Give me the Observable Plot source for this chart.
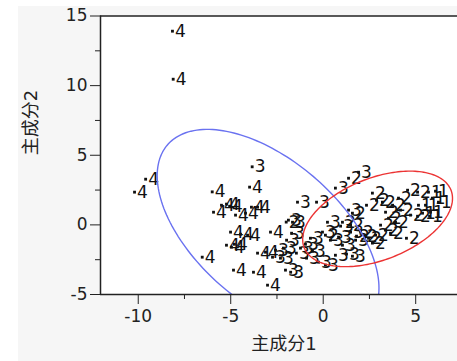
<!DOCTYPE html>
<html><head><meta charset="utf-8">
<script src="https://cdn.jsdelivr.net/npm/d3@7"></script>
<script src="https://cdn.jsdelivr.net/npm/@observablehq/plot@0.6"></script>
<style>
html,body{margin:0;padding:0;background:#fff;}
#wrap{position:relative;width:457px;height:361px;overflow:hidden;}
#bg{position:absolute;left:18px;top:6px;right:0;bottom:0;background:#f6f6f6;}
#chart{position:absolute;left:0;top:0;}
</style></head><body>
<div id="wrap"><div id="bg"></div><div id="chart"></div></div>
<script>
// group 4
const g4x = [-8.15,-8.11,-9.6,-10.2,-6.0,-3.98,-5.5,-5.23,-5.06,-5.93,-4.74,-3.88,-3.55,-5.01,-4.09,-2.85,-5.23,-4.96,-4.8,-6.54,-4.85,-3.77,-3.01,-3.55,-3.12,-4.47,-4.2];
const g4y = [13.91,10.46,3.28,2.35,2.37,2.71,1.41,1.49,1.34,0.91,0.70,1.27,1.27,-0.52,-0.74,-0.52,-1.46,-1.6,-1.39,-2.32,-3.25,-3.4,-4.33,-2.03,-1.96,-0.67,0.84];
// group 3
const g3x = [-3.84,-1.39,-1.88,-1.66,-2.04,-1.76,-2.31,-2.74,-2.58,-1.98,-1.71,-1.23,-0.96,-0.58,-0.25,0.12,0.66,1.26,1.58,1.04,0.83,1.48,1.75,1.37,0.66,-0.36,1.91,0.23,-0.04,0.39,0.94,-1.45,-0.9,-2.15,-0.69];
const g3y = [4.17,1.63,0.34,0.19,-3.25,-3.4,-2.39,-2.32,-1.82,-1.1,-0.6,-1.67,-1.39,-1.89,-2.68,-2.89,-2.18,-2.1,-2.25,-1.46,-0.88,-0.52,-1.1,1.06,2.64,1.63,3.78,0.19,-0.52,-1.1,-0.09,-2.03,-2.39,-1.67,-0.96];
// group 2
const g2x = [1.37,2.66,2.88,2.34,3.2,3.75,4.07,4.56,5.1,4.18,4.72,3.53,3.91,3.1,3.37,2.83,2.45,2.02,3.64,4.5,2.66,5.1,1.04,1.48,1.8,2.23,0.12,1.58,-2.0,3.37];
const g2y = [3.35,2.28,1.77,1.41,1.63,1.41,1.92,2.49,2.35,1.06,0.7,0.48,0.19,-0.02,-0.38,-0.74,-0.96,-0.52,-0.6,-0.96,-1.31,0.62,0.19,-0.02,-0.81,-0.81,-0.74,0.84,0.2,0.91];
// group 1
const g1x = [5.69,6.07,6.23,5.53,5.8,5.37,5.75,5.15,5.9];
const g1y = [2.35,2.42,1.63,1.41,0.91,0.84,0.62,1.41,1.92];

// density ellipses: centre, spread along x and y, correlation
const ellCx = [-2.98, 2.94];
const ellCy = [-0.5, 0.43];
const ellSx = [5.995, 4.05];
const ellSy = [7.357, 3.43];
const ellR = [-0.548, 0.43];
const ellColor = ["#6a72f0", "#ec3434"];

const xMajor = [-10, -5, 0, 5];
const xMinor = [-7.5, -2.5, 2.5];
const yMajor = [-5, 0, 5, 10, 15];
const yMinor = [-2.5, 2.5, 7.5, 12.5];
const xTitle = "主成分1";
const yTitle = "主成分2";

const points = [];
[[g1x,g1y,"1"],[g2x,g2y,"2"],[g3x,g3y,"3"],[g4x,g4y,"4"]].forEach(([xs,ys,g]) => {
  xs.forEach((x,i) => points.push({x, y: ys[i], g}));
});

const ellipses = ellCx.map((cx, k) => {
  const sx = ellSx[k], sy = ellSy[k], r = ellR[k];
  return d3.range(0, 361, 2).map(d => {
    const t = d * Math.PI / 180;
    return {x: cx + sx * Math.cos(t), y: ellCy[k] + sy * (r * Math.cos(t) + Math.sqrt(1 - r*r) * Math.sin(t))};
  });
});

const FONT = '"DejaVu Sans", "Noto Sans CJK SC", sans-serif';
const ink = "#222";

const chart = Plot.plot({
  width: 457, height: 361,
  marginLeft: 100, marginRight: 0, marginTop: 15.5, marginBottom: 67,
  style: {background: "transparent", fontFamily: FONT, fontSize: "17px", color: ink},
  x: {domain: [-12.04, 7.26]},
  y: {domain: [-5, 15]},
  marks: [
    Plot.frame({fill: "white", stroke: null}),
    Plot.dot(points, {x: "x", y: "y", symbol: "square", r: 1.6, fill: "#111", stroke: null}),
    Plot.text(points, {x: "x", y: "y", text: "g", textAnchor: "start", dx: 2.5, fill: "#111", fontSize: 17}),
    ...ellipses.map((e, k) => Plot.line(e, {x: "x", y: "y", stroke: ellColor[k], strokeWidth: 1.4, clip: true})),
    Plot.ruleY([15], {stroke: ink, strokeWidth: 1.5}),
    Plot.ruleY([-5], {stroke: ink, strokeWidth: 1.5}),
    Plot.ruleX([-12.04], {stroke: ink, strokeWidth: 1.5}),
    Plot.axisX({ticks: xMajor, tickSize: 10, tickPadding: 5, label: null, tickFormat: d => String(d)}),
    Plot.axisX({ticks: xMinor, tickSize: 5, label: null, tickFormat: () => ""}),
    Plot.axisY({ticks: yMajor, tickSize: 10, tickPadding: 3, label: null, tickFormat: d => String(d)}),
    Plot.axisY({ticks: yMinor, tickSize: 5, label: null, tickFormat: () => ""}),
    Plot.text([xTitle], {frameAnchor: "bottom", dy: 55, dx: 5, fontSize: 18, fill: ink}),
    Plot.text([yTitle], {frameAnchor: "left", dx: -69, rotate: -90, fontSize: 18, fill: ink})
  ]
});
document.getElementById("chart").appendChild(chart);
</script>
</body></html>
